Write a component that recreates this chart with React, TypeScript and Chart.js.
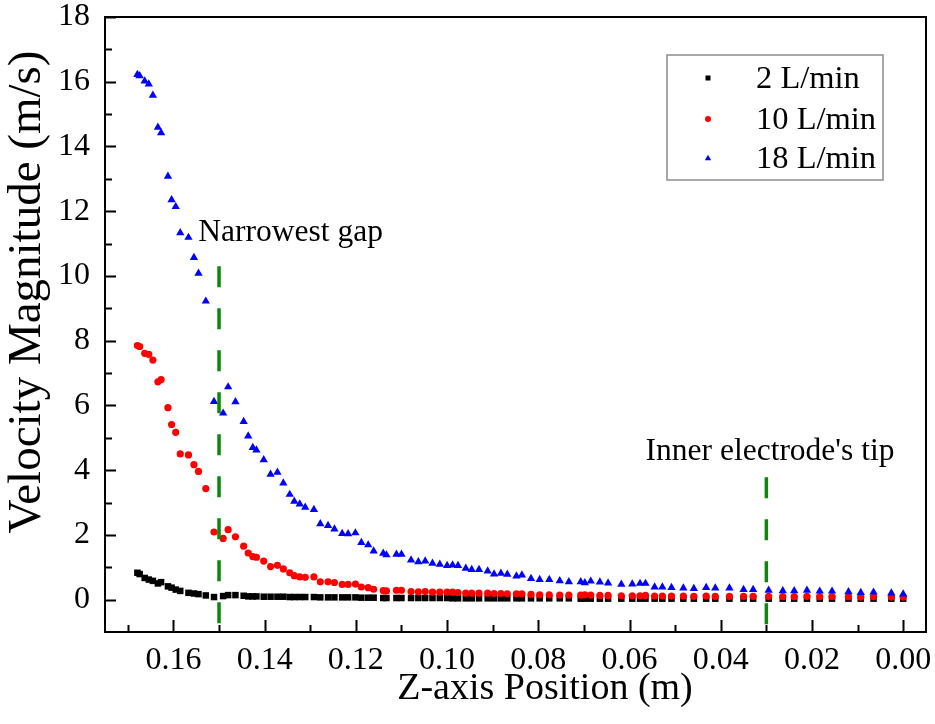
import React, { useEffect, useRef } from "react";
import { Chart, registerables } from "chart.js";

Chart.register(...registerables);

// ---- data ----
const zPositions = [
  0.1679, 0.1674, 0.1663, 0.1654, 0.1645, 0.1634, 0.1627, 0.1612, 0.1604, 0.1595,
  0.1585, 0.1567, 0.1555, 0.1545, 0.1529, 0.1511, 0.1491, 0.148, 0.1464, 0.1446,
  0.1436, 0.1426, 0.1418, 0.1402, 0.1387, 0.1372, 0.1359, 0.1345, 0.1335, 0.1323,
  0.1311, 0.1292, 0.1278, 0.1261, 0.1247, 0.123, 0.1217, 0.1201, 0.1188, 0.1173,
  0.1161, 0.114, 0.1133, 0.1111, 0.11, 0.1079, 0.1063, 0.1048, 0.1032, 0.1016,
  0.1, 0.0988, 0.0976, 0.0959, 0.0946, 0.093, 0.0911, 0.0897, 0.0882, 0.0868,
  0.0848, 0.0836, 0.0816, 0.0797, 0.0776, 0.0753, 0.0733, 0.0707, 0.0698, 0.0685,
  0.0665, 0.0647, 0.0618, 0.0594, 0.0577, 0.0565, 0.0545, 0.0528, 0.0508, 0.0482,
  0.0459, 0.0432, 0.0412, 0.0381, 0.035, 0.0329, 0.0295, 0.0264, 0.0239, 0.0211,
  0.0183, 0.0156, 0.012, 0.0093, 0.0065, 0.0026, 0.0,
];

const velocity2 = [
  0.83, 0.79, 0.67, 0.62, 0.58, 0.5, 0.54, 0.41, 0.37, 0.31,
  0.27, 0.21, 0.19, 0.17, 0.13, 0.08, 0.11, 0.14, 0.14, 0.12,
  0.1, 0.1, 0.1, 0.09, 0.09, 0.09, 0.09, 0.08, 0.08, 0.08,
  0.08, 0.08, 0.07, 0.07, 0.07, 0.07, 0.07, 0.07, 0.06, 0.06,
  0.06, 0.05, 0.05, 0.05, 0.05, 0.05, 0.05, 0.05, 0.05, 0.05,
  0.05, 0.04, 0.04, 0.04, 0.04, 0.04, 0.04, 0.04, 0.04, 0.04,
  0.04, 0.04, 0.04, 0.04, 0.04, 0.04, 0.04, 0.03, 0.03, 0.03,
  0.03, 0.03, 0.03, 0.03, 0.03, 0.03, 0.03, 0.03, 0.03, 0.03,
  0.03, 0.03, 0.03, 0.03, 0.03, 0.03, 0.03, 0.03, 0.03, 0.03,
  0.03, 0.03, 0.03, 0.03, 0.03, 0.03, 0.03,
];

const velocity10 = [
  7.85, 7.82, 7.61, 7.58, 7.4, 6.73, 6.8, 5.93, 5.41, 5.17,
  4.5, 4.47, 4.17, 3.96, 3.43, 2.09, 1.89, 2.16, 1.94, 1.65,
  1.44, 1.33, 1.31, 1.19, 1.02, 1.06, 0.95, 0.83, 0.74, 0.7,
  0.69, 0.7, 0.55, 0.55, 0.53, 0.47, 0.47, 0.48, 0.39, 0.37,
  0.32, 0.28, 0.27, 0.29, 0.29, 0.25, 0.24, 0.25, 0.23, 0.23,
  0.23, 0.23, 0.22, 0.2, 0.2, 0.2, 0.2, 0.19, 0.19, 0.18,
  0.18, 0.18, 0.16, 0.15, 0.15, 0.14, 0.14, 0.14, 0.15, 0.14,
  0.13, 0.13, 0.12, 0.12, 0.12, 0.13, 0.11, 0.11, 0.11, 0.11,
  0.1, 0.11, 0.1, 0.1, 0.1, 0.1, 0.1, 0.09, 0.09, 0.1,
  0.09, 0.09, 0.09, 0.08, 0.09, 0.08, 0.08,
];

const velocity18 = [
  16.22, 16.18, 16.02, 15.93, 15.58, 14.59, 14.42, 13.08, 12.35, 12.14,
  11.33, 11.19, 10.57, 10.08, 9.22, 6.12, 5.76, 6.57, 6.11, 5.5,
  5.05, 4.7, 4.62, 4.32, 3.87, 3.93, 3.6, 3.25, 3.04, 2.95,
  2.85, 2.78, 2.34, 2.29, 2.18, 2.04, 2.03, 2.06, 1.76, 1.69,
  1.5, 1.43, 1.38, 1.4, 1.4, 1.22, 1.17, 1.19, 1.12, 1.09,
  1.05, 1.07, 1.05, 0.97, 0.93, 0.93, 0.88, 0.79, 0.81, 0.78,
  0.73, 0.76, 0.65, 0.62, 0.62, 0.58, 0.55, 0.55, 0.52, 0.57,
  0.54, 0.51, 0.47, 0.48, 0.5, 0.5, 0.39, 0.39, 0.37, 0.36,
  0.34, 0.37, 0.36, 0.36, 0.31, 0.31, 0.29, 0.27, 0.27, 0.29,
  0.26, 0.26, 0.24, 0.22, 0.23, 0.2, 0.17,
];

const seriesLabels = ["2 L/min", "10 L/min", "18 L/min"];
const seriesColors = ["#000000", "#ff0000", "#0000ff"];
const seriesStyles = ["rect", "circle", "triangle"];

const xTickValues = [0.16, 0.14, 0.12, 0.1, 0.08, 0.06, 0.04, 0.02, 0.0];
const xMinorValues = [0.17, 0.15, 0.13, 0.11, 0.09, 0.07, 0.05, 0.03, 0.01];
const yTickValues = [0, 2, 4, 6, 8, 10, 12, 14, 16, 18];
const yMinorValues = [1, 3, 5, 7, 9, 11, 13, 15, 17];

const markerX = [0.15, 0.03];
const markerTop = [10.3, 3.78];
const markerTexts = ["Narrowest gap", "Inner electrode's tip"];
const markerTextX = [0.1343, 0.0292];
const markerTextY = [11.35, 4.56];

const xTitle = "Z-axis Position (m)";
const yTitle = "Velocity Magnitude (m/s)";

const FONT = "'Liberation Serif', 'Times New Roman', Times, serif";

function drawMarker(ctx: CanvasRenderingContext2D, style: string, x: number, y: number, r: number, color: string) {
  ctx.save();
  ctx.fillStyle = color;
  ctx.beginPath();
  if (style === "rect") {
    ctx.rect(x - r, y - r, 2 * r, 2 * r);
  } else if (style === "circle") {
    ctx.arc(x, y, r, 0, Math.PI * 2);
  } else {
    ctx.moveTo(x, y - r * 1.1);
    ctx.lineTo(x + r * 1.05, y + r * 0.75);
    ctx.lineTo(x - r * 1.05, y + r * 0.75);
    ctx.closePath();
  }
  ctx.fill();
  ctx.restore();
}

const decorPlugin = {
  id: "decor",
  afterDatasetsDraw(chart: any) {
    const ctx: CanvasRenderingContext2D = chart.ctx;
    const { left, right, top, bottom } = chart.chartArea;
    const xs = chart.scales.x;
    const ys = chart.scales.y;
    ctx.save();
    ctx.strokeStyle = "#000";
    ctx.lineWidth = 2;
    ctx.strokeRect(left, top, right - left, bottom - top);
    ctx.beginPath();
    for (const v of xTickValues) {
      const p = Math.round(xs.getPixelForValue(v)) + 0.5;
      ctx.moveTo(p, bottom);
      ctx.lineTo(p, bottom - 12);
    }
    for (const v of xMinorValues) {
      const p = Math.round(xs.getPixelForValue(v)) + 0.5;
      ctx.moveTo(p, bottom);
      ctx.lineTo(p, bottom - 7);
    }
    for (const v of yTickValues) {
      const p = Math.round(ys.getPixelForValue(v)) + 0.5;
      ctx.moveTo(left, p);
      ctx.lineTo(left + 11, p);
    }
    for (const v of yMinorValues) {
      const p = Math.round(ys.getPixelForValue(v)) + 0.5;
      ctx.moveTo(left, p);
      ctx.lineTo(left + 7, p);
    }
    ctx.stroke();

    // annotations
    ctx.fillStyle = "#000";
    ctx.font = `31.5px ${FONT}`;
    ctx.textAlign = "center";
    ctx.textBaseline = "middle";
    for (let i = 0; i < markerTexts.length; i++) {
      ctx.fillText(markerTexts[i], xs.getPixelForValue(markerTextX[i]), ys.getPixelForValue(markerTextY[i]));
    }

    // legend
    const lx = 667, ly = 55, lw = 216, lh = 125;
    ctx.fillStyle = "#fff";
    ctx.fillRect(lx, ly, lw, lh);
    ctx.strokeStyle = "#8c8c8c";
    ctx.lineWidth = 1.5;
    ctx.strokeRect(lx, ly, lw, lh);
    ctx.font = `32.5px ${FONT}`;
    ctx.textAlign = "left";
    const rows = [78, 119, 158];
    for (let i = 0; i < seriesLabels.length; i++) {
      drawMarker(ctx, seriesStyles[i], 708, rows[i], i === 0 ? 2.5 : 3, seriesColors[i]);
      ctx.fillStyle = "#000";
      ctx.fillText(seriesLabels[i], 756, rows[i] + 1);
    }

    // axis titles
    ctx.fillStyle = "#000";
    ctx.font = `38px ${FONT}`;
    ctx.textAlign = "center";
    ctx.fillText(xTitle, 545, 689);
    ctx.save();
    ctx.font = `47px ${FONT}`;
    ctx.translate(28, 292);
    ctx.rotate(-Math.PI / 2);
    ctx.fillText(yTitle, 0, 0);
    ctx.restore();
    ctx.restore();
  },
};

export default function App() {
  const ref = useRef<HTMLCanvasElement>(null);
  useEffect(() => {
    document.body.style.margin = "0";
    const canvas = ref.current!;
    const pts = (ys: number[]) => ys.map((y, i) => ({ x: zPositions[i], y }));
    const velocitySets = [velocity2, velocity10, velocity18];
    const datasets: any[] = velocitySets.map((vs, i) => ({
      label: seriesLabels[i],
      data: pts(vs),
      pointStyle: seriesStyles[i],
      pointRadius: i === 0 ? 4.6 : i === 1 ? 3.6 : 4.8,
      pointBackgroundColor: seriesColors[i],
      pointBorderColor: seriesColors[i],
      pointBorderWidth: 0,
      showLine: false,
      order: 3 - i,
    }));
    markerX.forEach((mx, i) => {
      datasets.push({
        label: markerTexts[i],
        data: [
          { x: mx, y: markerTop[i] },
          { x: mx, y: -1 },
        ],
        showLine: true,
        borderColor: "#0b870b",
        borderWidth: 3.5,
        borderDash: [21, 21],
        pointRadius: 0,
        order: 0,
      });
    });
    const chart = new Chart(canvas, {
      type: "scatter",
      data: { datasets },
      plugins: [decorPlugin],
      options: {
        animation: false,
        responsive: false,
        devicePixelRatio: 1,
        layout: { padding: { top: 17, right: 9, left: 0, bottom: 0 } },
        plugins: { legend: { display: false }, tooltip: { enabled: false } },
        scales: {
          x: {
            type: "linear",
            reverse: true,
            min: -0.005,
            max: 0.175,
            grid: { display: false },
            border: { display: false },
            afterBuildTicks: (s: any) => {
              s.ticks = xTickValues.map((v) => ({ value: v }));
            },
            afterFit: (s: any) => {
              s.height = 92;
              s.paddingLeft = 0;
              s.paddingRight = 0;
            },
            ticks: {
              autoSkip: false,
              maxRotation: 0,
              padding: 1,
              color: "#000",
              font: { family: FONT, size: 32 },
              callback: (v: any) => Number(v).toFixed(2),
            },
          },
          y: {
            type: "linear",
            min: -1,
            max: 18,
            grid: { display: false },
            border: { display: false },
            afterBuildTicks: (s: any) => {
              s.ticks = yTickValues.map((v) => ({ value: v }));
            },
            afterFit: (s: any) => {
              s.width = 105;
              s.paddingTop = 0;
              s.paddingBottom = 0;
            },
            ticks: {
              autoSkip: false,
              padding: 7,
              color: "#000",
              font: { family: FONT, size: 32 },
              callback: (v: any) => String(v),
            },
          },
        },
      },
    });
    return () => chart.destroy();
  }, []);
  return (
    <div style={{ position: "absolute", left: 0, top: 0, width: 935, height: 724, background: "#fff" }}>
      <canvas ref={ref} width={935} height={724} style={{ display: "block", width: 935, height: 724 }} />
    </div>
  );
}
